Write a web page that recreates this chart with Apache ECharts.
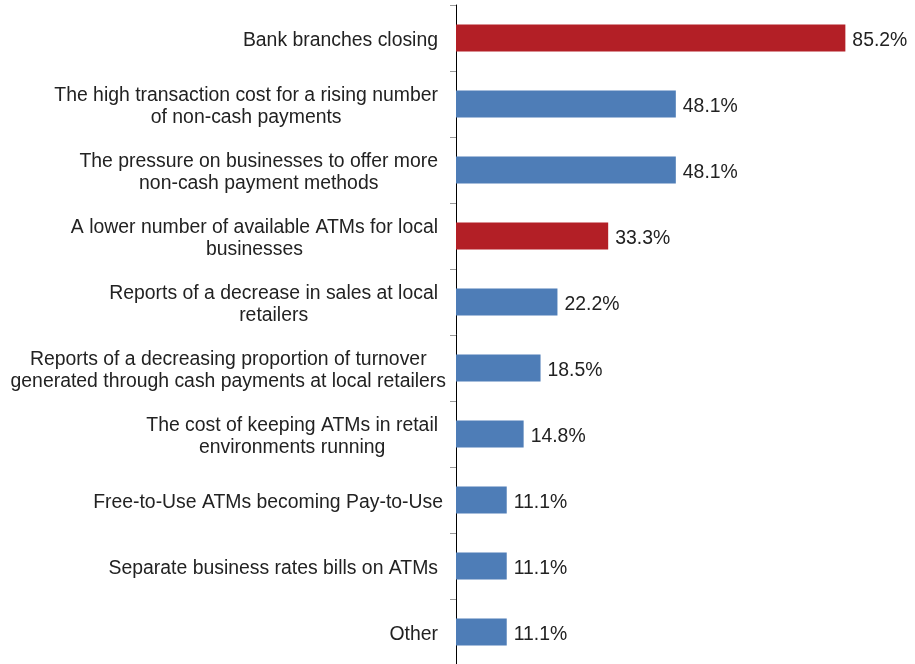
<!DOCTYPE html>
<html>
<head>
<meta charset="utf-8">
<style>
  html, body { margin: 0; padding: 0; background: #fff; }
  #chart { width: 915px; height: 664px; }
</style>
<script src="https://cdn.jsdelivr.net/npm/echarts@6/dist/echarts.min.js"></script>
</head>
<body>
<div id="chart"></div>
<script>
// Survey responses, top to bottom
const categories = [
  'Bank branches closing',
  'The high transaction cost for a rising number\nof non-cash payments',
  'The pressure on businesses to offer more\nnon-cash payment methods',
  'A lower number of available ATMs for local\nbusinesses',
  'Reports of a decrease in sales at local\nretailers',
  'Reports of a decreasing proportion of turnover\ngenerated through cash payments at local retailers',
  'The cost of keeping ATMs in retail\nenvironments running',
  'Free-to-Use ATMs becoming Pay-to-Use',
  'Separate business rates bills on ATMs',
  'Other'
];
const values = [85.2, 48.1, 48.1, 33.3, 22.2, 18.5, 14.8, 11.1, 11.1, 11.1];
// Responses drawn in the accent colour
const highlighted = ['Bank branches closing', 'A lower number of available ATMs for local\nbusinesses'];

const RED = '#B31F26';
const BLUE = '#4E7DB7';
const FONT_FAMILY = '"Liberation Sans", Arial, sans-serif';
const FONT_SIZE = 19.4;
const LINE_HEIGHT = 22;
// Labels too wide for their box spill a little towards the axis (px, by row)
const labelSpill = { 5: 8, 7: 5 };
// Text sits slightly below the middle of each row
const TEXT_DROP = 3;

// Width of the widest line of a label, so that its lines can be centred
// within a block whose right edge sits next to the axis.
const measureCtx = document.createElement('canvas').getContext('2d');
measureCtx.font = FONT_SIZE + 'px ' + FONT_FAMILY;
function blockWidth(text) {
  return Math.max(...text.split('\n').map(l => measureCtx.measureText(l).width));
}

const chart = echarts.init(document.getElementById('chart'));
chart.setOption({
  animation: false,
  grid: {
    left: 456, right: 2, top: 5, bottom: -1,
    containLabel: false,
    outerBoundsMode: 'none'
  },
  xAxis: {
    type: 'value',
    min: 0,
    max: 100,
    show: false
  },
  yAxis: {
    type: 'category',
    inverse: true,
    data: categories.map((c, i) => {
      const lines = c.split('\n').length;
      return {
        value: c,
        textStyle: {
          align: 'center',
          verticalAlign: 'top',
          padding: [
            TEXT_DROP - lines * LINE_HEIGHT / 2,
            blockWidth(c),
            0,
            2 * (labelSpill[i] || 0)
          ]
        }
      };
    }),
    axisLine: { show: true, lineStyle: { color: '#000', width: 1 } },
    axisTick: { show: true, length: 6, interval: 0, lineStyle: { color: '#999' } },
    axisLabel: {
      interval: 0,
      hideOverlap: false,
      margin: 18,
      fontFamily: FONT_FAMILY,
      fontSize: FONT_SIZE,
      lineHeight: LINE_HEIGHT,
      color: '#222'
    }
  },
  series: [{
    type: 'bar',
    barWidth: 27,
    data: values.map((v, i) => ({
      value: v,
      itemStyle: { color: highlighted.includes(categories[i]) ? RED : BLUE }
    })),
    label: {
      show: true,
      position: 'right',
      distance: 7,
      offset: [0, TEXT_DROP],
      fontFamily: FONT_FAMILY,
      fontSize: FONT_SIZE,
      color: '#222',
      formatter: p => p.value.toFixed(1) + '%'
    }
  }]
});
</script>
</body>
</html>
